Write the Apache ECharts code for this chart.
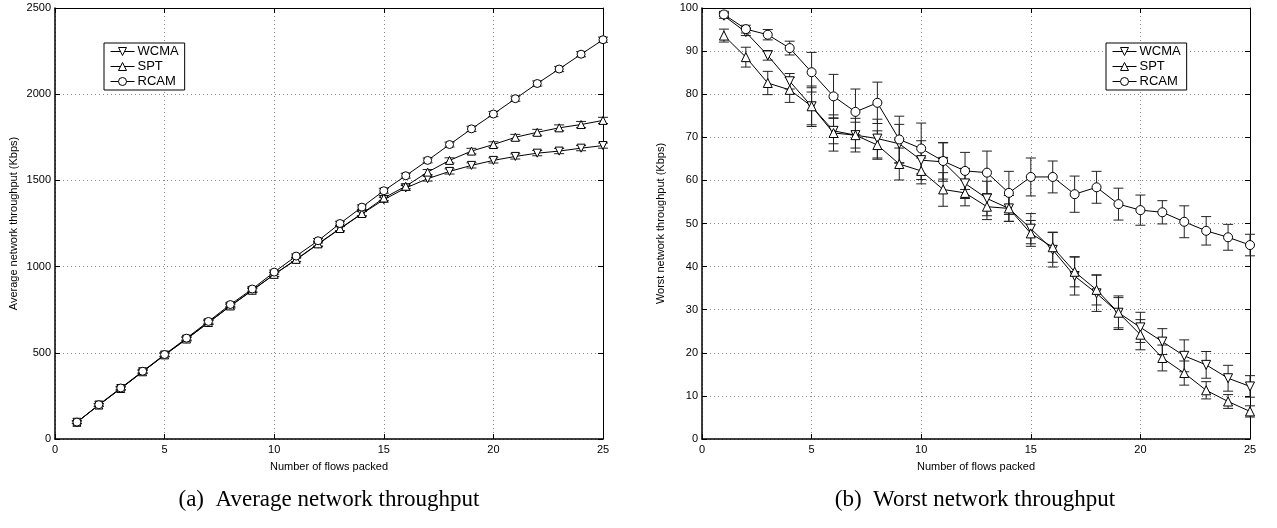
<!DOCTYPE html>
<html>
<head>
<meta charset="utf-8">
<script src="https://cdn.jsdelivr.net/npm/echarts@6/dist/echarts.min.js"></script>
<style>
html,body{margin:0;padding:0;background:#fff;}
#chart{width:1277px;height:528px;}
</style>
</head>
<body>
<div id="chart"></div>
<script>
// ---- data ----
const flows = [1,2,3,4,5,6,7,8,9,10,11,12,13,14,15,16,17,18,19,20,21,22,23,24,25];
const seriesNames = ['WCMA','SPT','RCAM'];

// (a) Average network throughput (Kbps)
const avgWCMA = [97,197,293,390,487,579,675,771,862,954,1040,1130,1219,1306,1388,1456,1510,1552,1587,1616,1639,1658,1670,1687,1702];
const avgSPT  = [97,197,293,390,488,580,676,772,863,955,1042,1132,1221,1308,1398,1466,1548,1616,1670,1708,1750,1779,1805,1824,1848];
const avgRCAM = [98,199,296,393,490,585,682,780,870,968,1061,1150,1250,1345,1440,1527,1616,1708,1799,1885,1974,2062,2146,2232,2316];
const avgErrWCMA = [8,8,9,9,10,10,11,11,12,12,12,13,13,13,14,14,14,15,15,15,15,15,15,15,15];
const avgErrSPT  = [8,8,9,9,10,10,11,11,12,12,12,13,13,13,14,14,15,15,16,16,17,17,17,18,18];
const avgErrRCAM = [8,8,9,9,10,10,11,11,12,12,12,13,13,13,14,14,14,14,15,15,15,15,15,15,15];

// (b) Worst network throughput (Kbps)
const worstWCMA = [98.2,94.4,89,83,77.2,71.5,70.5,69.7,68.5,64.7,64.3,59.3,55.8,53.5,48.8,43.9,37.8,33.8,29.3,25.9,22.6,19.3,17.2,14.1,12.2];
const worstSPT  = [93.6,88.6,82.6,81,77.2,71,70.5,68.2,63.8,62.2,57.9,57.1,53.9,53.5,47.7,44.5,38.8,34.6,29.3,24.2,18.8,15.3,11.3,8.7,6.4];
const worstRCAM = [98.5,95.1,93.8,90.7,85.1,79.5,75.9,78,69.5,67.4,64.5,62.2,61.8,57.1,60.8,60.8,56.8,58.4,54.5,53.1,52.6,50.4,48.3,46.8,45];
const errWCMA = [0.6,0.8,1.1,1.8,4.3,3,3,4.5,4.5,4.5,4.5,3.5,4,3,3.5,4,4.4,4.2,3.9,3.5,3,3.7,3.1,3,2.5];
const errSPT  = [1.5,2.3,2.7,2.9,4.7,4.2,3.9,3.3,3.7,3,3.9,3,3,3,3,3.5,3.5,3.5,3.5,3.5,3,2.8,2,1.6,1.3];
const errRCAM = [0.5,0.9,1.2,1.6,4.6,5.1,5.3,4.8,5.4,5.9,4.2,4.3,5,5,4.4,3.7,4.2,3.7,3.7,3.5,2.7,3.7,3.3,3,2.5];

const xTicks = {min:0, max:25, interval:5};
const yTicksA = {min:0, max:2500, interval:500};
const yTicksB = {min:0, max:100, interval:10};

const captionA = '(a)  Average network throughput';
const captionB = '(b)  Worst network throughput';

// ---- chart ----
const FONT = 'Liberation Sans, Arial, Helvetica, sans-serif';
const SERIF = '23px "Liberation Serif", "Times New Roman", serif';
const chart = echarts.init(document.getElementById('chart'), null, {renderer:'canvas'});

const markers = {WCMA:{symbol:'triangle', rotate:180}, SPT:{symbol:'triangle', rotate:0}, RCAM:{symbol:'circle', rotate:0}};

function pts(v){ return flows.map((x,i)=>[x, v[i]]); }
function errPts(v,e){ return flows.map((x,i)=>[x, v[i]-e[i], v[i]+e[i]]); }

function errRender(params, api){
  const x = api.value(0);
  const lo = api.coord([x, api.value(1)]);
  const hi = api.coord([x, api.value(2)]);
  const w = 5;
  const st = {stroke:'#222', lineWidth:1};
  return {type:'group', children:[
    {type:'line', shape:{x1:lo[0], y1:lo[1], x2:hi[0], y2:hi[1]}, style:st},
    {type:'line', shape:{x1:lo[0]-w, y1:lo[1], x2:lo[0]+w, y2:lo[1]}, style:st},
    {type:'line', shape:{x1:hi[0]-w, y1:hi[1], x2:hi[0]+w, y2:hi[1]}, style:st}
  ]};
}

function lineSeries(name, data, xi, yi, size){
  return {
    type:'line', name:name, data:pts(data), xAxisIndex:xi, yAxisIndex:yi,
    symbol:markers[name].symbol, symbolRotate:markers[name].rotate, symbolSize:size,
    showAllSymbol:true, animation:false, z:5,
    lineStyle:{color:'#000', width:1},
    itemStyle:{color:'#fff', borderColor:'#000', borderWidth:1},
    emphasis:{disabled:true}
  };
}
function errSeries(v, e, xi, yi){
  return {type:'custom', renderItem:errRender, data:errPts(v,e), xAxisIndex:xi, yAxisIndex:yi,
          encode:{x:0, y:[1,2]}, animation:false, z:3, silent:true};
}

function xAxisPair(gi, name){
  return [
    {type:'value', gridIndex:gi, position:'bottom', ...xTicks, name:name, nameLocation:'middle', nameGap:22,
     nameTextStyle:{fontFamily:FONT, fontSize:11, color:'#000'},
     axisLine:{show:true, onZero:false, lineStyle:{color:'#000', width:1.5}},
     axisTick:{show:true, inside:true, length:5, lineStyle:{color:'#000'}},
     axisLabel:{fontFamily:FONT, fontSize:11, color:'#000', margin:5, formatter:v=>String(v)},
     splitLine:{show:true, lineStyle:{color:'#888', type:[1,3], width:1}}},
    {type:'value', gridIndex:gi, position:'top', ...xTicks,
     axisLine:{show:true, onZero:false, lineStyle:{color:'#000', width:1}},
     axisTick:{show:true, inside:true, length:5, lineStyle:{color:'#000'}},
     axisLabel:{show:false}, splitLine:{show:false}}
  ];
}
function yAxisPair(gi, ticks, name){
  return [
    {type:'value', gridIndex:gi, position:'left', ...ticks, name:name, nameLocation:'middle', nameGap:36,
     nameTextStyle:{fontFamily:FONT, fontSize:11, color:'#000'},
     axisLine:{show:true, onZero:false, lineStyle:{color:'#000', width:1.5}},
     axisTick:{show:true, inside:true, length:5, lineStyle:{color:'#000'}},
     axisLabel:{fontFamily:FONT, fontSize:11, color:'#000', margin:4, formatter:v=>String(v)},
     splitLine:{show:true, lineStyle:{color:'#888', type:[1,3], width:1}}},
    {type:'value', gridIndex:gi, position:'right', ...ticks,
     axisLine:{show:true, onZero:false, lineStyle:{color:'#000', width:1}},
     axisTick:{show:true, inside:true, length:5, lineStyle:{color:'#000'}},
     axisLabel:{show:false}, splitLine:{show:false}}
  ];
}

function legendAt(left){
  return {
    left:left, top:43, orient:'vertical', data:seriesNames,
    backgroundColor:'#fff', borderColor:'#000', borderWidth:1, padding:[2,6,2,6],
    itemGap:2, itemWidth:24, itemHeight:10, selectedMode:false,
    textStyle:{fontFamily:FONT, fontSize:13, color:'#000', padding:[0,0,0,-2]},
    lineStyle:{width:1, color:'#000'},
    itemStyle:{color:'#fff', borderColor:'#000', borderWidth:1},
    symbolRotate:'inherit'
  };
}

const option = {
  backgroundColor:'#fff',
  animation:false,
  grid:[
    {left:55, right:674, top:8, bottom:89, containLabel:false},
    {left:702, right:27, top:8, bottom:89, containLabel:false}
  ],
  xAxis:[...xAxisPair(0,'Number of flows packed'), ...xAxisPair(1,'Number of flows packed')],
  yAxis:[...yAxisPair(0, yTicksA, 'Average network throughput (Kbps)'), ...yAxisPair(1, yTicksB, 'Worst network throughput (Kbps)')],
  legend:[legendAt(104), legendAt(1106)],
  series:[
    errSeries(avgWCMA, avgErrWCMA, 0, 0),
    errSeries(avgSPT, avgErrSPT, 0, 0),
    errSeries(avgRCAM, avgErrRCAM, 0, 0),
    lineSeries('WCMA', avgWCMA, 0, 0, 8),
    lineSeries('SPT', avgSPT, 0, 0, 8),
    lineSeries('RCAM', avgRCAM, 0, 0, 8),
    errSeries(worstWCMA, errWCMA, 2, 2),
    errSeries(worstSPT, errSPT, 2, 2),
    errSeries(worstRCAM, errRCAM, 2, 2),
    lineSeries('WCMA', worstWCMA, 2, 2, 9),
    lineSeries('SPT', worstSPT, 2, 2, 9),
    lineSeries('RCAM', worstRCAM, 2, 2, 9)
  ],
  graphic:[
    {type:'text', x:329, y:488, silent:true,
     style:{text:captionA, font:SERIF, fill:'#000', textAlign:'center'}},
    {type:'text', x:975, y:488, silent:true,
     style:{text:captionB, font:SERIF, fill:'#000', textAlign:'center'}}
  ]
};
chart.setOption(option);
</script>
</body>
</html>
